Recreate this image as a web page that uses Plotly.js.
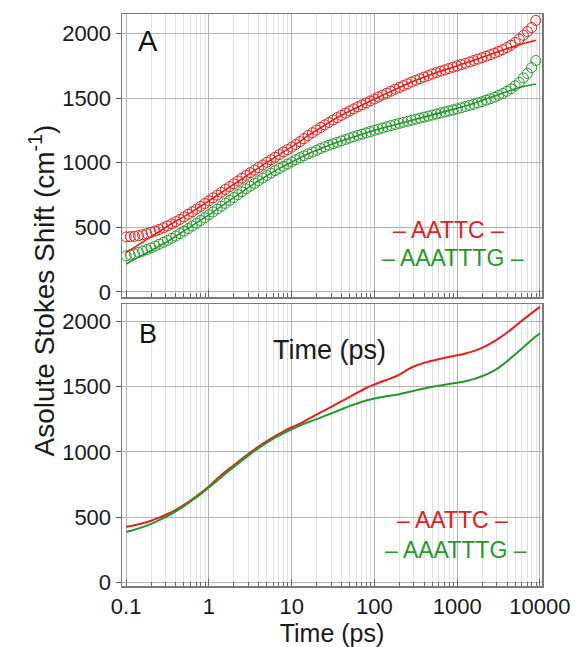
<!DOCTYPE html>
<html>
<head>
<meta charset="utf-8">
<script src="https://cdn.plot.ly/plotly-3.0.1.min.js"></script>
<style>html,body{margin:0;padding:0;background:#fff;}#chart{width:575px;height:647px;}</style>
</head>
<body>
<div id="chart"></div>
<script>
// Time grids (ps)
const tFine = [0.1,0.112,0.126,0.141,0.158,0.178,0.2,0.224,0.251,0.282,0.316,0.355,0.398,0.447,0.501,0.562,0.631,0.708,0.794,0.891,
  1,1.12,1.26,1.41,1.58,1.78,2,2.24,2.51,2.82,3.16,3.55,3.98,4.47,5.01,5.62,6.31,7.08,7.94,8.91,
  10,11.2,12.6,14.1,15.8,17.8,20,22.4,25.1,28.2,31.6,35.5,39.8,44.7,50.1,56.2,63.1,70.8,79.4,89.1,
  100,112,126,141,158,178,200,224,251,282,316,355,398,447,501,562,631,708,794,891,
  1000,1122,1259,1413,1585,1778,1995,2239,2512,2818,3162,3548,3981,4467,5012,5623,6310,7079,7943,8913];
const tFit = [0.1,0.126,0.158,0.2,0.251,0.316,0.398,0.501,0.631,0.794,1,1.26,1.58,2,2.51,3.16,3.98,5.01,6.31,7.94,
  10,12.6,15.8,20,25.1,31.6,39.8,50.1,63.1,79.4,100,126,158,200,251,316,398,501,631,794,
  1000,1259,1585,1995,2512,3162,3981,5012,6310,7943,8913];
const tCurve = [0.1,0.126,0.158,0.2,0.251,0.316,0.398,0.501,0.631,0.794,1,1.26,1.58,2,2.51,3.16,3.98,5.01,6.31,7.94,
  10,12.6,15.8,20,25.1,31.6,39.8,50.1,63.1,79.4,100,126,158,200,251,316,398,501,631,794,
  1000,1259,1585,1995,2512,3162,3981,5012,6310,7943,10000];

// Panel A: measured (circles)
const aattcData = [425,427,430,435,442,450,460,471,483,496,510,526,543,561,580,600,620,641,662,684,
  705,727,748,770,792,814,836,858,880,901,922,942,962,982,1002,1022,1042,1062,1082,1101,
  1120,1140,1162,1185,1210,1231,1252,1272,1292,1311,1330,1348,1366,1383,1400,1416,1432,1447,1462,1477,
  1492,1508,1523,1538,1553,1568,1582,1596,1610,1624,1637,1650,1662,1674,1686,1697,1708,1718,1728,1738,
  1748,1758,1768,1779,1790,1801,1812,1823,1835,1847,1860,1874,1890,1909,1930,1956,1985,2014,2045,2100];
const aaatttgData = [278,286,295,305,315,327,340,354,368,383,398,415,432,451,470,490,510,531,552,574,
  596,618,640,662,685,708,730,752,775,797,818,839,860,880,900,919,938,955,972,989,
  1005,1022,1038,1053,1068,1082,1096,1109,1122,1134,1146,1157,1168,1179,1190,1200,1210,1220,1230,1240,
  1250,1259,1268,1277,1286,1295,1304,1312,1320,1328,1336,1344,1352,1360,1368,1376,1384,1392,1400,1408,
  1416,1425,1434,1443,1452,1462,1472,1483,1494,1506,1520,1535,1552,1572,1595,1621,1655,1690,1735,1790];

// Panel A: fits (lines)
const aattcFit = [303,344,385,427,468,510,548,582,620,662,705,748,792,836,880,922,962,1002,1042,1082,
  1120,1162,1210,1252,1292,1330,1366,1400,1432,1462,1492,1523,1553,1582,1610,1637,1662,1686,1708,1728,
  1748,1770,1793,1815,1838,1860,1882,1903,1922,1938,1946];
const aaatttgFit = [216,250,284,318,352,390,430,470,510,552,596,640,685,730,775,818,860,900,938,972,
  1005,1038,1068,1096,1122,1146,1168,1190,1210,1230,1250,1268,1286,1304,1320,1336,1352,1368,1384,1400,
  1418,1438,1460,1483,1506,1529,1551,1571,1589,1602,1608];

// Panel B: curves
const aattcB = [428,440,455,474,497,525,557,595,638,685,735,795,848,898,948,995,1040,1082,1120,1155,
  1188,1215,1250,1284,1318,1352,1386,1420,1455,1488,1515,1540,1562,1590,1628,1658,1680,1697,1712,1725,
  1738,1752,1770,1795,1827,1865,1910,1960,2012,2060,2108];
const aaatttgB = [388,405,425,450,478,510,546,586,630,677,727,780,833,885,935,983,1028,1070,1108,1142,
  1172,1200,1226,1250,1275,1300,1325,1350,1372,1392,1408,1420,1430,1441,1455,1470,1484,1497,1508,1518,
  1528,1540,1556,1578,1606,1642,1690,1745,1800,1855,1906];

const xTickVals = [0.1,1,10,100,1000,10000];
const xTickText = ['0.1','1','10','100','1000','10000'];
const yTickVals = [0,500,1000,1500,2000];
const seriesNames = ['AATTC','AAATTTG'];

const RED = '#e3201c', GREEN = '#23982a';
const FONT = 'Arial, "Liberation Sans", sans-serif';

const traces = [
  {x:tFine, y:aattcData, xaxis:'x', yaxis:'y', mode:'markers', name:seriesNames[0],
   marker:{symbol:'circle-open', size:10, color:RED, line:{width:1, color:RED}}},
  {x:tFine, y:aaatttgData, xaxis:'x', yaxis:'y', mode:'markers', name:seriesNames[1],
   marker:{symbol:'circle-open', size:10, color:GREEN, line:{width:1, color:GREEN}}},
  {x:tFit, y:aattcFit, xaxis:'x', yaxis:'y', mode:'lines', name:seriesNames[0]+' fit', line:{color:RED, width:1.6}},
  {x:tFit, y:aaatttgFit, xaxis:'x', yaxis:'y', mode:'lines', name:seriesNames[1]+' fit', line:{color:GREEN, width:1.6}},
  {x:tCurve, y:aattcB, xaxis:'x2', yaxis:'y2', mode:'lines', name:seriesNames[0], line:{color:RED, width:2, shape:'spline'}},
  {x:tCurve, y:aaatttgB, xaxis:'x2', yaxis:'y2', mode:'lines', name:seriesNames[1], line:{color:GREEN, width:2, shape:'spline'}}
];

const xBase = {
  type:'log', range:[-1.05, 4.025], dtick:1,
  showgrid:true, gridcolor:'#b3b3b3', gridwidth:1,
  ticks:'inside', ticklen:7, tickcolor:'#666', tickwidth:1,
  minor:{ticks:'inside', ticklen:4, tickcolor:'#666', showgrid:true, gridcolor:'#e2e2e2', gridwidth:1, dtick:'D1'},
  showline:true, linecolor:'#7a7a7a', linewidth:1.5, mirror:true, zeroline:false,
  tickvals:xTickVals, ticktext:xTickText,
  tickfont:{family:FONT, size:22, color:'#1a1a1a'}
};
const yBase = {
  tickvals:yTickVals,
  showgrid:true, gridcolor:'#b3b3b3', gridwidth:1,
  ticks:'outside', ticklen:5, tickcolor:'#555', tickwidth:1,
  showline:true, linecolor:'#7a7a7a', linewidth:1.5, mirror:true, zeroline:false,
  tickfont:{family:FONT, size:22, color:'#1a1a1a'}
};

const ann = (text, x, y, size, color, extra) => Object.assign(
  {text, x, y, xref:'paper', yref:'paper', showarrow:false, xanchor:'center', yanchor:'middle',
   font:{family:FONT, size, color}}, extra || {});

const layout = {
  width:575, height:647,
  margin:{l:122, r:33, t:14, b:61},
  paper_bgcolor:'#fff', plot_bgcolor:'#fff',
  showlegend:false,
  font:{family:FONT},
  xaxis:Object.assign({}, xBase, {anchor:'y', domain:[0,1], showticklabels:false}),
  yaxis:Object.assign({}, yBase, {anchor:'x', domain:[0.5052,1], range:[-40,2150]}),
  xaxis2:Object.assign({}, xBase, {anchor:'y2', domain:[0,1],
     title:{text:'Time (ps)', font:{family:FONT, size:25, color:'#1a1a1a'}, standoff:3}}),
  yaxis2:Object.assign({}, yBase, {anchor:'x2', domain:[0,0.493], range:[-25,2130]}),
  annotations:[
    ann('Asolute Stokes Shift (cm<sup>-1</sup>)', -0.19, 0.517, 28, '#1a1a1a', {textangle:-90}),
    ann('A', 0.062, 0.953, 29, '#111'),
    ann('B', 0.062, 0.4406, 27, '#111'),
    ann('Time (ps)', 0.495, 0.4126, 27, '#1a1a1a'),
    ann('– '+seriesNames[0]+' –', 0.777, 0.623, 23, RED),
    ann('– '+seriesNames[1]+' –', 0.789, 0.5726, 23, GREEN),
    ann('– '+seriesNames[0]+' –', 0.787, 0.1154, 23, RED),
    ann('– '+seriesNames[1]+' –', 0.796, 0.0629, 23, GREEN)
  ]
};

Plotly.newPlot('chart', traces, layout, {displayModeBar:false, staticPlot:true});
</script>
</body>
</html>
